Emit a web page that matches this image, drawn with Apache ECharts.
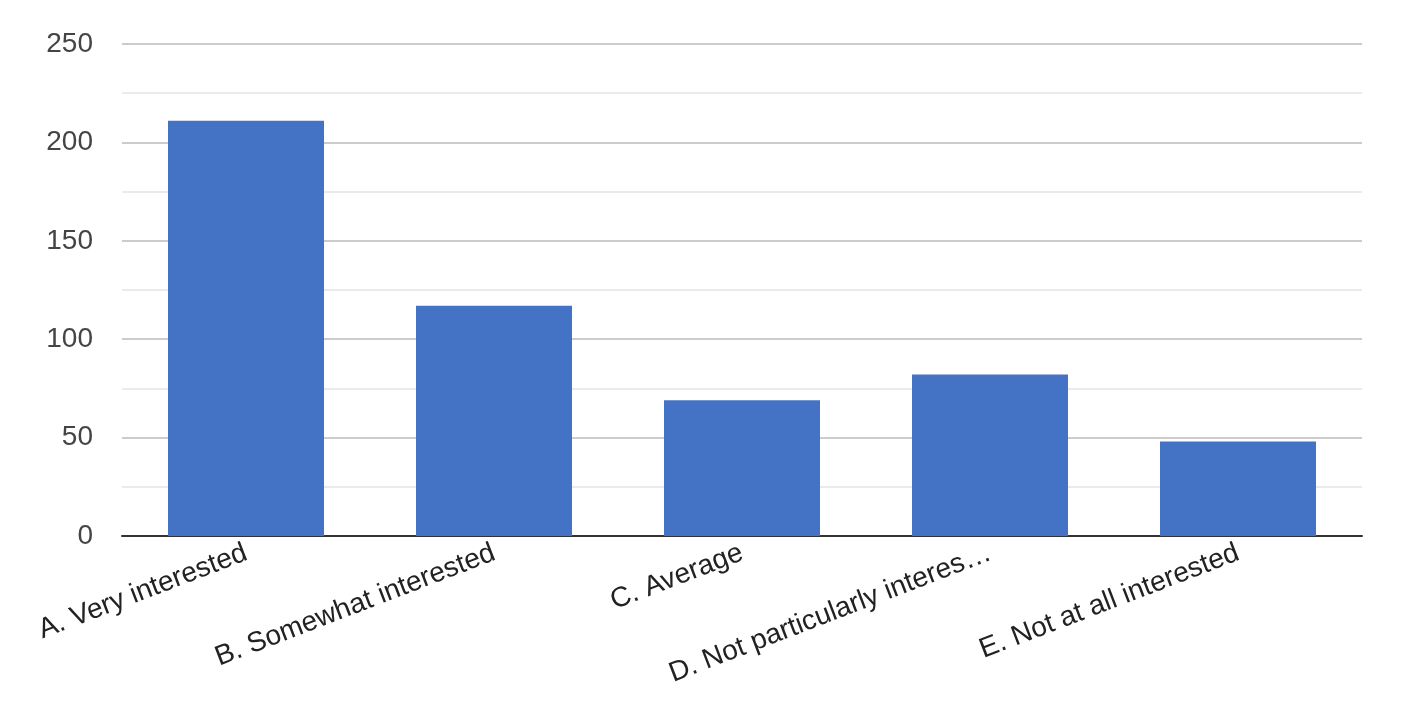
<!DOCTYPE html>
<html>
<head>
<meta charset="utf-8">
<script src="https://cdn.jsdelivr.net/npm/echarts@6/dist/echarts.min.js"></script>
<style>
html,body{margin:0;padding:0;background:#fff;}
#chart{width:1418px;height:706px;}
</style>
</head>
<body>
<div id="chart"></div>
<script>
const categories = ["A. Very interested", "B. Somewhat interested", "C. Average", "D. Not particularly interes\u2026", "E. Not at all interested"];
const values = [211, 117, 69, 82, 48];
const yTicks = [0, 50, 100, 150, 200, 250];

const chart = echarts.init(document.getElementById('chart'));
chart.setOption({
  animation: false,
  grid: { left: 122, right: 56, top: 44, bottom: 170, containLabel: false },
  xAxis: {
    type: 'category',
    data: categories,
    axisLine: { show: true, lineStyle: { color: '#333', width: 2 } },
    axisTick: { show: false },
    axisLabel: {
      interval: 0,
      rotate: 21,
      margin: 16,
      color: '#222',
      fontSize: 28,
      fontFamily: "'Liberation Sans', Arial, sans-serif"
    }
  },
  yAxis: {
    type: 'value',
    min: yTicks[0],
    max: yTicks[yTicks.length - 1],
    interval: 50,
    axisLine: { show: false },
    axisTick: { show: false },
    axisLabel: {
      margin: 29,
      color: '#444',
      fontSize: 28,
      fontFamily: "'Liberation Sans', Arial, sans-serif"
    },
    splitLine: { show: true, lineStyle: { color: '#cccccc', width: 2 } },
    minorTick: { show: false, splitNumber: 2 },
    minorSplitLine: { show: true, lineStyle: { color: '#ebebeb', width: 2 } }
  },
  series: [{
    type: 'bar',
    data: values,
    barWidth: 156,
    itemStyle: { color: '#4472C4' }
  }]
});
</script>
</body>
</html>
